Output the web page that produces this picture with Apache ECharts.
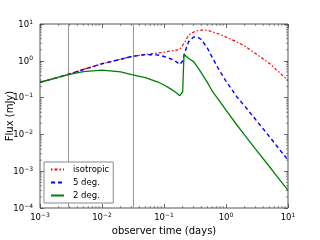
<!DOCTYPE html>
<html>
<head>
<meta charset="utf-8">
<script src="https://cdn.jsdelivr.net/npm/echarts@6/dist/echarts.min.js"></script>
<style>html,body{margin:0;padding:0;background:#fff;}#c{width:320px;height:240px;}</style>
</head>
<body>
<div id="c"></div>
<script>
const times = [0.001, 0.002, 0.003, 0.005, 0.01, 0.02, 0.03, 0.05, 0.08, 0.1, 0.13, 0.16, 0.18, 0.19, 0.2, 0.21, 0.22, 0.25, 0.3, 0.35, 0.4, 0.5, 0.6, 0.8, 1, 1.5, 2, 3, 5, 7, 10];
const isotropic = [0.26, 0.358, 0.44, 0.58, 0.83, 1.10, 1.31, 1.50, 1.63, 1.71, 1.87, 1.96, 2.03, 2.15, 2.65, 2.99, 3.37, 5.0, 6.06, 6.58, 6.87, 6.74, 6.18, 5.19, 4.43, 3.24, 2.52, 1.58, 0.85, 0.51, 0.29];
const deg5 = [0.26, 0.358, 0.44, 0.58, 0.83, 1.10, 1.31, 1.47, 1.44, 1.31, 1.12, 0.93, 0.79, 0.77, 0.99, 1.37, 1.85, 3.34, 4.43, 4.38, 3.79, 2.23, 1.23, 0.51, 0.28, 0.104, 0.059, 0.0254, 0.0088, 0.00427, 0.0020];
const deg2 = [0.26, 0.358, 0.43, 0.51, 0.56, 0.50, 0.42, 0.35, 0.265, 0.22, 0.17, 0.133, 0.113, 0.125, 0.145, 1.5, 1.35, 1.15, 0.95, 0.66, 0.47, 0.26, 0.151, 0.078, 0.046, 0.018, 0.0096, 0.0040, 0.00134, 0.00065, 0.00030];
const seriesNames = ['isotropic', '5 deg.', '2 deg.'];
const vLines = [0.0028, 0.032];
const xTickExps = [-3, -2, -1, 0, 1];
const yTickExps = [-4, -3, -2, -1, 0, 1];

const FONT = 'DejaVu Sans';
const xMin = Math.pow(10, xTickExps[0]), xMax = Math.pow(10, xTickExps[xTickExps.length - 1]);
const yMin = Math.pow(10, yTickExps[0]), yMax = Math.pow(10, yTickExps[yTickExps.length - 1]);

function minorTicks(exps) {
  const out = [];
  for (let i = 0; i < exps.length - 1; i++) {
    for (let m = 2; m <= 9; m++) out.push(m * Math.pow(10, exps[i]));
  }
  return out;
}
const xMinor = minorTicks(xTickExps).map(v => [v, yMin]);
const yMinor = minorTicks(yTickExps).map(v => [xMin, v]);

function fmt(v) {
  const e = Math.round(Math.log10(v));
  const s = e < 0 ? '\u2212' + (-e) : String(e);
  return '{b|10}{s|' + s + '}';
}
const rich = {
  b: { fontSize: 8.5, fontFamily: FONT, color: '#000', verticalAlign: 'bottom' },
  s: { fontSize: 6, fontFamily: FONT, color: '#000', verticalAlign: 'bottom', padding: [0, 0, 4, 0] }
};

const pair = arr => times.map((t, i) => [t, arr[i]]);

const chart = echarts.init(document.getElementById('c'), null, { renderer: 'canvas' });
const axisCommon = {
  type: 'log', logBase: 10, interval: 1,
  axisLine: { show: false },
  splitLine: { show: false },
  axisTick: { show: true, inside: true, length: 4, lineStyle: { color: '#444', width: 0.8 } }
};
chart.setOption({
  animation: false,
  backgroundColor: '#fff',
  grid: { left: 40, right: 32, top: 24, bottom: 32, containLabel: false, outerBoundsMode: 'none',
          show: true, borderColor: '#555', borderWidth: 1, backgroundColor: 'transparent' },
  xAxis: [
    Object.assign({}, axisCommon, {
      min: xMin, max: xMax, position: 'bottom',
      name: 'observer time (days)', nameLocation: 'middle', nameGap: 18, nameMoveOverlap: false,
      nameTextStyle: { fontSize: 10, fontFamily: FONT, color: '#000' },
      axisLabel: { show: true, margin: 4, formatter: fmt, rich: rich }
    }),
    Object.assign({}, axisCommon, { min: xMin, max: xMax, position: 'top', axisLabel: { show: false } })
  ],
  yAxis: [
    Object.assign({}, axisCommon, {
      min: yMin, max: yMax, position: 'left',
      name: 'Flux (mJy)', nameLocation: 'middle', nameGap: 25, nameRotate: 90, nameMoveOverlap: false,
      nameTextStyle: { fontSize: 10, fontFamily: FONT, color: '#000' },
      axisLabel: { show: true, margin: 7, formatter: fmt, rich: rich }
    }),
    Object.assign({}, axisCommon, { min: yMin, max: yMax, position: 'right', axisLabel: { show: false } })
  ],
  legend: {
    data: seriesNames,
    orient: 'vertical', left: 44, top: 162,
    backgroundColor: '#fff', borderColor: '#888', borderWidth: 1, borderRadius: 0,
    padding: [3, 4, 3, 6], itemWidth: 13, itemHeight: 8, itemGap: 4,
    itemStyle: { opacity: 0 },
    textStyle: { fontSize: 8.5, fontFamily: FONT, color: '#000', padding: [0, 0, 0, 4] }
  },
  series: [
    {
      type: 'custom', data: vLines.map(v => [v, yMin]), z: 1, silent: true,
      renderItem: function (params, api) {
        const b = api.coord([api.value(0), yMin]);
        const t = api.coord([api.value(0), yMax]);
        return { type: 'line', shape: { x1: Math.round(b[0]) + 0.5, y1: b[1], x2: Math.round(t[0]) + 0.5, y2: t[1] },
                 style: { stroke: '#999', lineWidth: 1 } };
      }
    },
    {
      name: seriesNames[0], type: 'line', data: pair(isotropic), z: 2,
      showSymbol: false, symbol: 'none',
      lineStyle: { color: '#ff0000', width: 1.2, type: [1.5, 2, 3, 2] },
      itemStyle: { color: '#ff0000' }
    },
    {
      name: seriesNames[1], type: 'line', data: pair(deg5), z: 3,
      showSymbol: false, symbol: 'none',
      lineStyle: { color: '#0000ff', width: 1.4, type: [4, 3] },
      itemStyle: { color: '#0000ff' }
    },
    {
      name: seriesNames[2], type: 'line', data: pair(deg2), z: 4,
      showSymbol: false, symbol: 'none',
      lineStyle: { color: '#008000', width: 1.3, type: 'solid' },
      itemStyle: { color: '#008000' }
    },
    {
      type: 'custom', data: xMinor, z: 5, silent: true, clip: false,
      renderItem: function (params, api) {
        const b = api.coord([api.value(0), yMin]);
        const t = api.coord([api.value(0), yMax]);
        return { type: 'group', children: [
          { type: 'line', shape: { x1: b[0], y1: b[1], x2: b[0], y2: b[1] - 2 }, style: { stroke: '#444', lineWidth: 0.6 } },
          { type: 'line', shape: { x1: t[0], y1: t[1], x2: t[0], y2: t[1] + 2 }, style: { stroke: '#444', lineWidth: 0.6 } }
        ] };
      }
    },
    {
      type: 'custom', data: yMinor, z: 5, silent: true, clip: false,
      renderItem: function (params, api) {
        const l = api.coord([xMin, api.value(1)]);
        const r = api.coord([xMax, api.value(1)]);
        return { type: 'group', children: [
          { type: 'line', shape: { x1: l[0], y1: l[1], x2: l[0] + 2, y2: l[1] }, style: { stroke: '#444', lineWidth: 0.6 } },
          { type: 'line', shape: { x1: r[0], y1: r[1], x2: r[0] - 2, y2: r[1] }, style: { stroke: '#444', lineWidth: 0.6 } }
        ] };
      }
    }
  ]
});
</script>
</body>
</html>
